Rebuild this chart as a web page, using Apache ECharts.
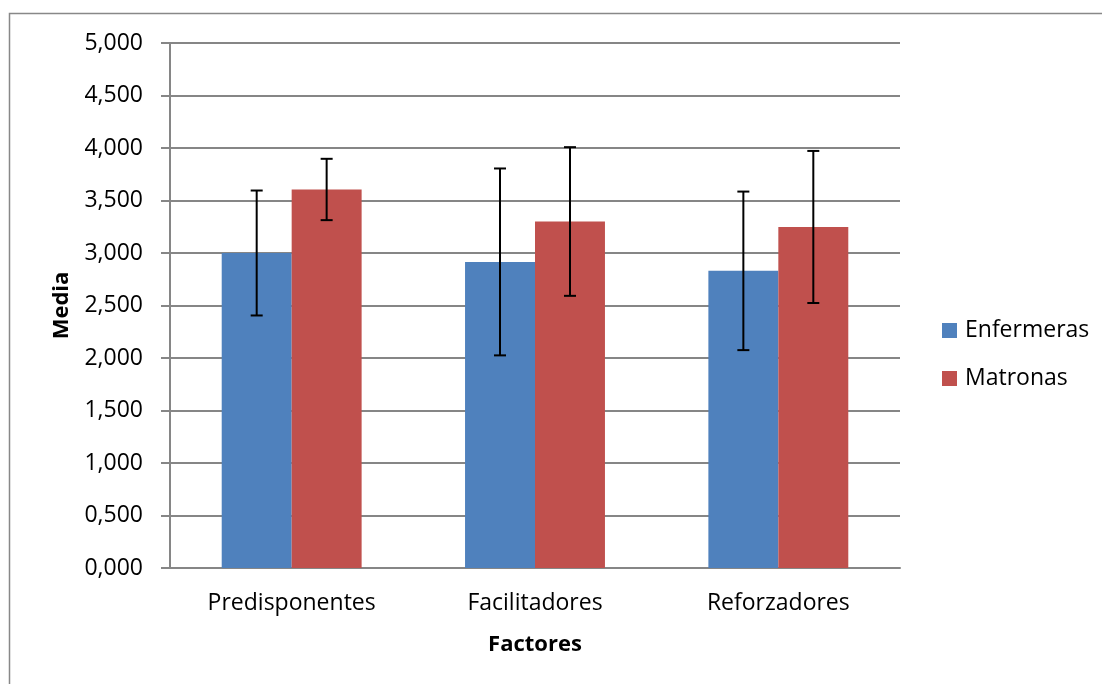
<!DOCTYPE html>
<html><head><meta charset="utf-8">
<script src="https://cdn.jsdelivr.net/npm/echarts@6/dist/echarts.min.js"></script>
<style>html,body{margin:0;padding:0;background:#fff}#c{width:1102px;height:684px}</style>
</head><body><div id="c"></div>
<script>
const categories = ['Predisponentes', 'Facilitadores', 'Reforzadores'];
const enfermeras = [3.000, 2.915, 2.830];
const enfermerasErr = [0.595, 0.890, 0.755];
const matronas = [3.605, 3.300, 3.248];
const matronasErr = [0.292, 0.708, 0.724];
const seriesNames = ['Enfermeras', 'Matronas'];
const colors = ['#4F81BD', '#C0504D'];
const FONT = 'Open Sans';
const FS = 23;
const CAT_GAP = 0.425;

function errSeries(vals, errs, idx) {
  return {
    type: 'custom', name: seriesNames[idx] + ' err', z: 10, silent: true,
    data: vals.map((v, i) => [i, v - errs[i], v + errs[i]]),
    renderItem: function (params, api) {
      const band = api.size([1, 0])[0];
      const barW = band * (1 - CAT_GAP) / 2;
      const off = idx === 0 ? -barW / 2 : barW / 2;
      const lo = api.coord([api.value(0), api.value(1)]);
      const hi = api.coord([api.value(0), api.value(2)]);
      const x = lo[0] + off, cap = 6;
      const st = { stroke: '#000', lineWidth: 2 };
      return { type: 'group', children: [
        { type: 'line', shape: { x1: x, y1: lo[1], x2: x, y2: hi[1] }, style: st },
        { type: 'line', shape: { x1: x - cap, y1: lo[1], x2: x + cap, y2: lo[1] }, style: st },
        { type: 'line', shape: { x1: x - cap, y1: hi[1], x2: x + cap, y2: hi[1] }, style: st }
      ]};
    }
  };
}

function legendFor(name, top) {
  return {
    orient: 'vertical', left: 937, top: top, itemWidth: 15, itemHeight: 15,
    icon: 'rect', data: [name],
    textStyle: { fontFamily: FONT, fontSize: FS, color: '#000', padding: [0, 0, 0, 3] }
  };
}

const chart = echarts.init(document.getElementById('c'), null, { renderer: 'canvas' });
chart.setOption({
  animation: false,
  backgroundColor: '#fff',
  textStyle: { fontFamily: FONT },
  graphic: [{ type: 'rect', shape: { x: 9.5, y: 13.5, width: 1110, height: 700 }, style: { fill: 'none', stroke: '#888', lineWidth: 1.5 }, silent: true }],
  grid: { left: 170, right: 202, top: 43, bottom: 116 },
  legend: [legendFor(seriesNames[0], 314), legendFor(seriesNames[1], 362)],
  xAxis: {
    type: 'category', data: categories,
    name: 'Factores', nameLocation: 'middle', nameGap: 66,
    nameTextStyle: { fontFamily: FONT, fontSize: FS - 1, fontWeight: 'bold', color: '#000' },
    axisLine: { lineStyle: { color: '#868686', width: 2 } },
    axisTick: { show: false },
    axisLabel: { fontFamily: FONT, fontSize: FS, color: '#000', margin: 24 }
  },
  yAxis: {
    type: 'value', min: 0, max: 5, interval: 0.5,
    name: 'Media', nameLocation: 'middle', nameGap: 97, nameRotate: 90,
    nameTextStyle: { fontFamily: FONT, fontSize: FS - 1, fontWeight: 'bold', color: '#000' },
    axisLine: { show: true, lineStyle: { color: '#868686', width: 2 } },
    axisTick: { show: true, length: 9, lineStyle: { color: '#868686', width: 2 } },
    splitLine: { lineStyle: { color: '#868686', width: 2 } },
    axisLabel: { fontFamily: FONT, fontSize: FS, color: '#000', margin: 27,
      formatter: v => v.toFixed(3).replace('.', ',') }
  },
  series: [
    { type: 'bar', name: seriesNames[0], data: enfermeras, barGap: '0%', barCategoryGap: (CAT_GAP * 100) + '%',
      itemStyle: { color: colors[0] } },
    { type: 'bar', name: seriesNames[1], data: matronas, barGap: '0%', barCategoryGap: (CAT_GAP * 100) + '%',
      itemStyle: { color: colors[1] } },
    errSeries(enfermeras, enfermerasErr, 0),
    errSeries(matronas, matronasErr, 1)
  ]
});
</script></body></html>
